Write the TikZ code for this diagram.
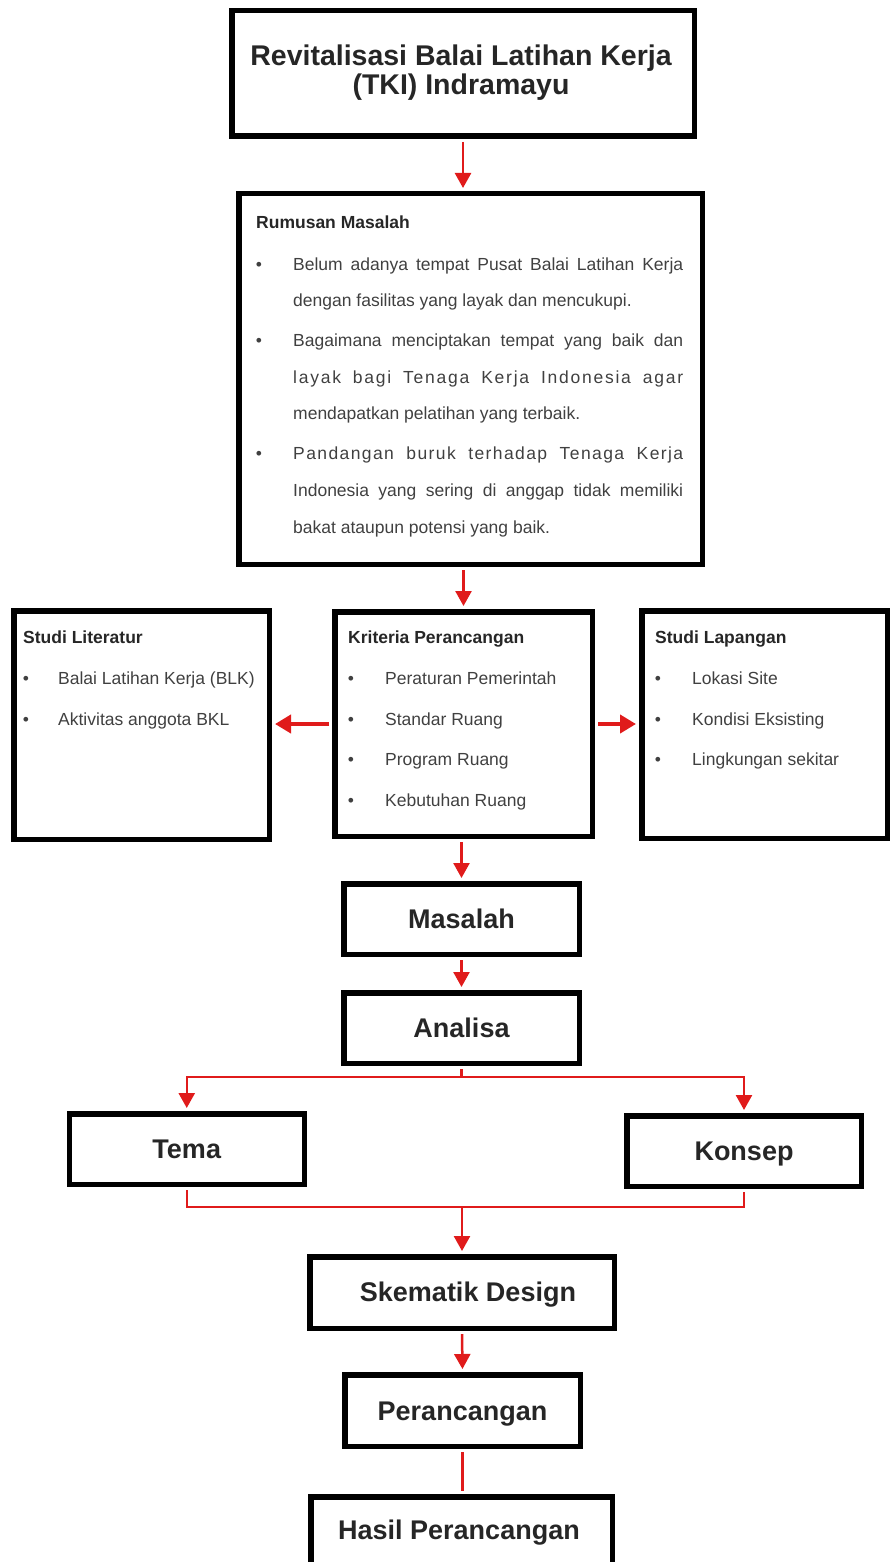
\documentclass[tikz,border=0pt]{standalone}
\usepackage{fontspec}
\setmainfont{Liberation Sans}
\usetikzlibrary{arrows.meta}
\definecolor{arrred}{HTML}{E01B1B}
\definecolor{bodytext}{HTML}{404040}
\definecolor{headtext}{HTML}{262626}
\newcommand{\jline}[1]{\makebox[390pt][s]{#1}}
\begin{document}
\begin{tikzpicture}[x=1pt,y=-1pt,
  box/.style={draw=black, line width=5.5pt, inner sep=0pt},
  bigtext/.style={font=\fontsize{27}{29}\selectfont\bfseries, text=headtext, text height=19pt, text depth=0pt},
  titletext/.style={anchor=base, inner sep=0pt, font=\fontsize{28.5}{30}\selectfont\bfseries, text=headtext},
  head/.style={anchor=base west, inner sep=0pt, font=\fontsize{17.5}{20}\selectfont\bfseries, text=headtext},
  item/.style={anchor=base west, inner sep=0pt, font=\fontsize{17.5}{20}\selectfont, text=bodytext},
  bul/.style={anchor=base, inner sep=0pt, font=\fontsize{17.5}{20}\selectfont, text=bodytext},
  link/.style={draw=arrred, line width=2.5pt},
  arr/.style={link, -{Triangle[width=16pt,length=15pt]}, shorten >=3pt},
  sidearr/.style={draw=arrred, line width=4pt, -{Triangle[width=18pt,length=16pt]}, shorten >=3pt, shorten <=3pt},
]
\useasboundingbox (0,0) rectangle (891,1562);
\clip (0,0) rectangle (891,1562);

% ---------- boxes ----------
\node[box, minimum width=462.5pt, minimum height=125.5pt] (title) at (463,73.5) {};
\node[box, minimum width=463.5pt, minimum height=370.5pt] (rumusan) at (470.5,379) {};
\node[box, minimum width=255.5pt, minimum height=228.5pt] (lit) at (141.5,725) {};
\node[box, minimum width=257.5pt, minimum height=224.5pt] (krit) at (463.5,724) {};
\node[box, minimum width=245.5pt, minimum height=227.5pt] (lap) at (764.5,724.5) {};
\node[box, bigtext, minimum width=235.5pt, minimum height=70.5pt] (masalah) at (461.5,919) {Masalah};
\node[box, bigtext, minimum width=235.5pt, minimum height=70.5pt] (analisa) at (461.5,1028) {Analisa};
\node[box, bigtext, minimum width=235pt, minimum height=70.5pt] (tema) at (186.75,1149) {Tema};
\node[box, bigtext, minimum width=234.5pt, minimum height=70.5pt] (konsep) at (744,1151) {Konsep};
\node[box, minimum width=304.5pt, minimum height=71.5pt] (skematik) at (462,1292.5) {};
\node[bigtext, inner sep=0pt] (skemtext) at (468,1292) {Skematik Design};
\node[box, bigtext, minimum width=235.5pt, minimum height=71.5pt] (peranc) at (462.5,1410.5) {Perancangan};
\node[box, minimum width=301.5pt, minimum height=71.5pt] (hasil) at (461.5,1532.5) {};
\node[bigtext, inner sep=0pt] (hasiltext) at (459,1530) {Hasil Perancangan};

% ---------- title text ----------
\node[titletext] (t1) at (461,66) {Revitalisasi Balai Latihan Kerja};
\node[titletext] (t2) at (461,94.5) {(TKI) Indramayu};

% ---------- rumusan masalah ----------
\node[head] (rmh) at (256,229) {Rumusan Masalah};
\node[bul] (rb1) at (259,270) {•};
\node[item] (r1) at (293,270) {\jline{Belum adanya tempat Pusat Balai Latihan Kerja}};
\node[item] (r2) at (293,306) {dengan fasilitas yang layak dan mencukupi.};
\node[bul] (rb2) at (259,346) {•};
\node[item] (r3) at (293,346) {\jline{Bagaimana menciptakan tempat yang baik dan}};
\node[item] (r4) at (293,383) {\addfontfeature{LetterSpace=10}\jline{layak bagi Tenaga Kerja Indonesia agar}};
\node[item] (r5) at (293,419) {mendapatkan pelatihan yang terbaik.};
\node[bul] (rb3) at (259,459) {•};
\node[item] (r6) at (293,459) {\addfontfeature{LetterSpace=8}\jline{Pandangan buruk terhadap Tenaga Kerja}};
\node[item] (r7) at (293,496) {\jline{Indonesia yang sering di anggap tidak memiliki}};
\node[item] (r8) at (293,533) {bakat ataupun potensi yang baik.};

% ---------- studi literatur ----------
\node[head] (lh) at (23,643) {Studi Literatur};
\node[bul] (lb1) at (26,684) {•};
\node[item] (l1) at (58,684) {Balai Latihan Kerja (BLK)};
\node[bul] (lb2) at (26,725) {•};
\node[item] (l2) at (58,725) {Aktivitas anggota BKL};

% ---------- kriteria perancangan ----------
\node[head] (kh) at (348,643) {Kriteria Perancangan};
\node[bul] (kb1) at (351,684) {•};
\node[item] (k1) at (385,684) {Peraturan Pemerintah};
\node[bul] (kb2) at (351,725) {•};
\node[item] (k2) at (385,725) {Standar Ruang};
\node[bul] (kb3) at (351,765) {•};
\node[item] (k3) at (385,765) {Program Ruang};
\node[bul] (kb4) at (351,806) {•};
\node[item] (k4) at (385,806) {Kebutuhan Ruang};

% ---------- studi lapangan ----------
\node[head] (ph) at (655,643) {Studi Lapangan};
\node[bul] (pb1) at (658,684) {•};
\node[item] (p1) at (692,684) {Lokasi Site};
\node[bul] (pb2) at (658,725) {•};
\node[item] (p2) at (692,725) {Kondisi Eksisting};
\node[bul] (pb3) at (658,765) {•};
\node[item] (p3) at (692,765) {Lingkungan sekitar};

% ---------- connectors ----------
\coordinate (bar1) at (0,1077);
\coordinate (bar2) at (0,1207);
\draw[arr, shorten <=3pt] (title.south) -- (title.south |- rumusan.north);
\draw[arr, shorten <=3pt] (krit.north |- rumusan.south) -- (krit.north);
\draw[sidearr] (krit.west) -- (krit.west -| lit.east);
\draw[sidearr] (krit.east) -- (krit.east -| lap.west);
\draw[arr, shorten <=3pt] (masalah.north |- krit.south) -- (masalah.north);
\draw[arr, shorten <=3pt] (analisa.north |- masalah.south) -- (analisa.north);
\draw[link, shorten <=3pt] (analisa.south) -- (analisa.south |- bar1);
\draw[arr] (analisa.south |- bar1) -| (tema.north);
\draw[arr] (analisa.south |- bar1) -| (konsep.north);
\draw[link, shorten <=3pt, shorten >=3pt] (tema.south) |- (konsep.south |- bar2) -- (konsep.south);
\draw[arr] (skematik.north |- bar2) -- (skematik.north);
\draw[arr, shorten <=3pt] (skematik.south) -- (peranc.north);
\draw[link, shorten <=3pt, shorten >=3pt] (peranc.south) -- (hasil.north -| peranc.south);
\end{tikzpicture}
\end{document}
